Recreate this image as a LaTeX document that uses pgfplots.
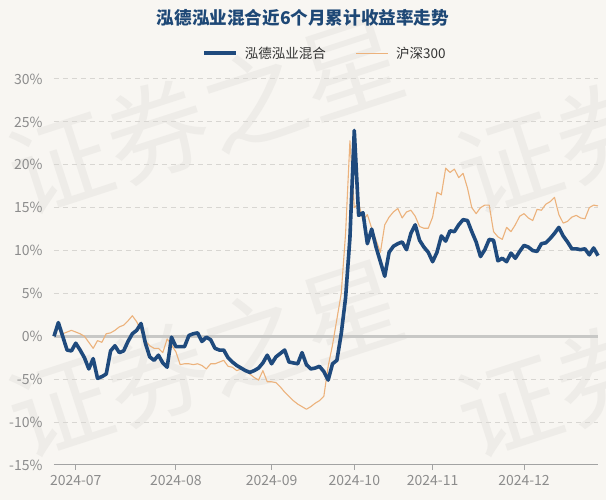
\documentclass[border=0pt]{standalone}
\usepackage{fontspec}
\setmainfont{Noto Sans CJK SC}
\usepackage{pgfplots}
\usepackage{pgfplotstable}
\pgfplotsset{compat=1.18}

\definecolor{bgc}{RGB}{248,246,242}
\definecolor{wmc}{RGB}{238,236,232}
\definecolor{fundc}{RGB}{31,74,125}
\definecolor{hsc}{RGB}{236,178,124}
\definecolor{gridc}{RGB}{216,214,210}
\definecolor{tickc}{RGB}{140,140,140}
\definecolor{titlec}{RGB}{30,72,118}
\definecolor{zeroc}{RGB}{200,200,198}

% i = trading day index (0 = first trading day of 2024-07)
\pgfplotstableread{
i fund hs
-5 0.0 0.3
-4 1.6 1.0
-3 0.0 0.3
-2 -1.6 0.5
-1 -1.7 0.7
0 -0.8 0.5
1 -1.6 0.3
2 -2.5 0.0
3 -3.8 -0.7
4 -2.6 -1.4
5 -4.9 -0.5
6 -4.7 -0.7
7 -4.4 0.3
8 -1.7 0.4
9 -1.1 0.7
10 -1.9 1.1
11 -1.7 1.3
12 -0.6 1.8
13 0.3 2.4
14 0.7 1.7
15 1.5 0.7
16 -0.8 -0.5
17 -2.4 -1.1
18 -2.8 -1.4
19 -2.2 -1.4
20 -3.1 -1.9
21 -3.6 -0.3
22 -0.1 -1.0
23 -1.2 -1.8
24 -1.2 -3.3
25 -1.2 -3.2
26 0.1 -3.2
27 0.3 -3.3
28 0.4 -3.2
29 -0.6 -3.4
30 -0.1 -3.8
31 -0.4 -3.2
32 -1.4 -3.2
33 -1.6 -3.0
34 -1.6 -2.8
35 -2.5 -3.5
36 -3.0 -3.6
37 -3.4 -4.0
38 -3.7 -3.8
39 -4.0 -4.0
40 -4.2 -4.4
41 -4.0 -4.8
42 -3.7 -5.1
43 -3.1 -4.0
44 -2.2 -5.3
45 -3.2 -5.3
46 -2.4 -5.4
47 -2.0 -5.9
48 -1.6 -6.5
49 -3.0 -7.0
50 -3.1 -7.5
51 -3.2 -7.9
52 -1.9 -8.2
53 -3.3 -8.5
54 -3.8 -8.2
55 -3.7 -7.8
56 -3.5 -7.5
57 -4.1 -7.0
58 -5.1 -3.5
59 -3.2 -1.0
60 -2.8 2.0
61 0.3 5.0
62 4.5 12.0
63 11.5 22.8
64 24.0 15.0
65 14.1 15.5
66 14.4 13.5
67 10.8 14.2
68 12.5 12.6
69 10.4 11.2
70 8.7 9.8
71 7.0 13.0
72 9.8 13.9
73 10.5 14.5
74 10.8 14.9
75 11.0 13.8
76 10.1 14.5
77 12.0 14.7
78 13.0 14.0
79 11.2 12.8
80 10.4 12.6
81 9.8 12.6
82 8.7 13.9
83 9.8 16.8
84 11.7 16.5
85 11.1 19.6
86 12.3 19.1
87 12.2 19.5
88 13.0 18.5
89 13.6 19.0
90 13.5 17.3
91 12.2 15.0
92 11.0 14.3
93 9.3 15.0
94 10.1 15.3
95 11.3 15.3
96 11.2 12.2
97 8.8 11.6
98 9.1 11.3
99 8.7 12.7
100 9.7 12.2
101 9.1 13.0
102 9.9 14.0
103 10.6 14.3
104 10.4 13.8
105 10.0 13.5
106 9.9 14.8
107 10.8 14.7
108 10.9 15.4
109 11.4 15.7
110 12.0 16.2
111 12.7 14.2
112 11.7 13.2
113 11.0 13.4
114 10.2 13.9
115 10.2 14.1
116 10.1 13.8
117 10.2 13.7
118 9.5 15.0
119 10.3 15.3
120 9.4 15.2
}\navdata

\begin{document}
\begin{tikzpicture}[x=1pt,y=1pt]
\useasboundingbox (0,0) rectangle (606,500);
\fill[bgc] (0,0) rectangle (606,500);

% watermark
\begin{scope}
\clip (0,0) rectangle (606,500);
\foreach \cx/\cy in {205/385, 205/142, 654/385, 654/142}
  \node[text=wmc, rotate=18, font=\fontsize{102}{110}\selectfont, inner sep=0pt]
    at (\cx,\cy) {证券之星};
\end{scope}

\node[font=\bfseries\fontsize{17.6}{20}\selectfont, text=titlec] at (303,482)
  {泓德泓业混合近6个月累计收益率走势};

\begin{axis}[
  at={(54pt,35pt)}, anchor=south west,
  width=544pt, height=386pt, scale only axis,
  xmin=-5, xmax=120, ymin=-15, ymax=30,
  axis x line*=bottom, axis y line*=left,
  y axis line style={draw=none},
  x axis line style={draw=tickc!80, line width=1pt},
  xtick={0,23,45,64,82,103},
  xticklabels={2024-07,2024-08,2024-09,2024-10,2024-11,2024-12},
  ytick={-15,-10,-5,0,5,10,15,20,25,30},
  yticklabels={-15\%,-10\%,-5\%,0\%,5\%,10\%,15\%,20\%,25\%,30\%},
  ytick style={draw=none},
  xtick style={draw=tickc!80, line width=1pt},
  tick align=outside, major tick length=5pt,
  ymajorgrids,
  major grid style={draw=gridc, line width=1pt, dash pattern=on 5pt off 4pt},
  ticklabel style={font=\fontsize{14}{16}\selectfont, text=tickc},
  yticklabel style={xshift=-3pt},
  xticklabel style={yshift=-2pt},
  legend columns=2,
  reverse legend,
  legend style={at={(0.498,1.067)}, anchor=center, draw=none, fill=none,
    font=\fontsize{13.5}{16}\selectfont, text=black!80,
    /tikz/every odd column/.append style={column sep=5pt},
    /tikz/every even column/.append style={column sep=28pt}},
  legend image code/.code={\draw[#1] (0pt,0pt) -- (32pt,0pt);},
  clip=false,
]
\draw[zeroc, line width=2.5pt] (axis cs:-5,0) -- (axis cs:120,0);
\addplot[hsc, line width=1.1pt, line join=round] table[x=i, y=hs] {\navdata};
\addplot[fundc, line width=3.6pt, line join=round] table[x=i, y=fund] {\navdata};
\legend{沪深300,泓德泓业混合}
\end{axis}
\end{tikzpicture}
\end{document}
